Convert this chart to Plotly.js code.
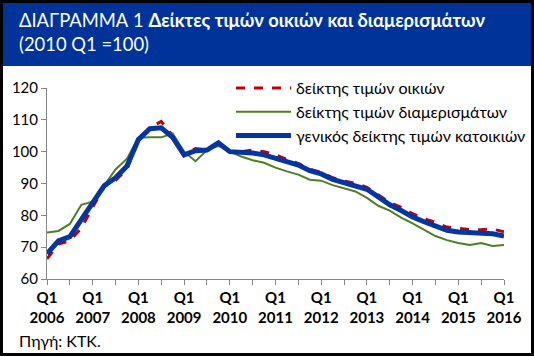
<!DOCTYPE html>
<html>
<head>
<meta charset="utf-8">
<script src="https://cdn.plot.ly/plotly-3.0.1.min.js"></script>
<style>
  html, body { margin: 0; padding: 0; background: #fff; }
  #chart { width: 534px; height: 356px; }
</style>
</head>
<body>
<div id="chart"></div>
<script>
// Quarters 2006 Q1 .. 2016 Q1
const quarters = [];
for (let y = 2006; y <= 2016; y++) {
  for (let q = 1; q <= 4; q++) {
    if (y === 2016 && q > 1) break;
    quarters.push('Q' + q + ' ' + y);
  }
}

const seriesNames = ['δείκτης τιμών οικιών', 'δείκτης τιμών διαμερισμάτων', 'γενικός δείκτης τιμών κατοικιών'];

const houses = [66.3, 71.0, 72.0, 76.0, 82.5, 89.0, 91.0, 94.5, 103.5, 107.5, 109.5, 105.0,
  99.5, 101.0, 100.5, 102.5, 100.0, 100.0, 100.5, 100.0, 99.0, 97.5, 96.3, 94.5,
  93.5, 91.8, 90.8, 90.0, 88.8, 86.5, 84.0, 82.5, 80.5, 79.0, 77.8, 76.3,
  76.0, 75.5, 75.5, 75.7, 74.8];

const apartments = [74.6, 75.1, 77.3, 83.3, 84.3, 89.5, 94.4, 97.8, 104.4, 104.5, 104.5, 105.7,
  100.0, 97.0, 100.5, 101.8, 100.0, 98.5, 97.3, 96.5, 95.0, 93.8, 92.8, 91.2,
  90.9, 89.5, 88.5, 87.5, 85.5, 83.0, 81.5, 79.3, 77.5, 75.5, 73.5, 72.2,
  71.3, 70.7, 71.3, 70.4, 70.7];

const general = [67.9, 72.0, 73.3, 78.5, 83.5, 89.3, 91.8, 95.5, 103.8, 107.2, 107.5, 104.5,
  99.0, 100.3, 100.5, 102.8, 100.0, 99.8, 99.6, 99.0, 98.0, 96.8, 95.8, 94.0,
  93.0, 91.3, 90.3, 89.5, 88.2, 85.8, 83.3, 81.5, 79.5, 78.0, 76.8, 75.3,
  74.8, 74.5, 74.3, 74.2, 73.5];

// Ticks every 2 quarters, labels every 4 quarters
const tickVals = quarters.filter((q, i) => i % 2 === 0);
const tickText = quarters.map((q, i) => i % 4 === 0 ? q.replace(' ', '<br>') : '').filter((t, i) => i % 2 === 0);

const FONT = 'Lato, "Open Sans", "DejaVu Sans", sans-serif';

const traces = [
  { x: quarters, y: houses, name: seriesNames[0], type: 'scatter', mode: 'lines',
    line: { color: '#C00000', width: 3, dash: 'dash' } },
  { x: quarters, y: apartments, name: seriesNames[1], type: 'scatter', mode: 'lines',
    line: { color: '#4F7F1F', width: 2 } },
  { x: quarters, y: general, name: seriesNames[2], type: 'scatter', mode: 'lines',
    line: { color: '#0535A0', width: 5 } }
];

const W = 534, H = 356;
const L = 47, R = 30, T = 88, B = 77;
const pw = W - L - R, ph = H - T - B;
const px = v => (v - L) / pw;
const py = v => (H - B - v) / ph;

const layout = {
  width: W, height: H,
  margin: { l: L, r: R, t: T, b: B, autoexpand: false },
  paper_bgcolor: '#ffffff',
  plot_bgcolor: '#ffffff',
  font: { family: FONT, color: '#000', size: 15 },
  showlegend: true,
  title: {
    text: 'ΔΙΑΓΡΑΜΜΑ 1 <b>Δείκτες τιμών οικιών και διαμερισμάτων</b><br>(2010 Q1 =100)',
    font: { family: FONT, size: 18.4, color: '#ffffff' },
    x: 19 / W, xanchor: 'left', xref: 'container',
    y: 1 - 27 / H, yanchor: 'top', yref: 'container'
  },
  xaxis: {
    type: 'category',
    range: [0, quarters.length - 1],
    tickmode: 'array', tickvals: tickVals, ticktext: tickText,
    ticks: 'outside', ticklen: 5, tickcolor: '#868686',
    showline: true, linecolor: '#868686', linewidth: 1,
    showgrid: false, zeroline: false,
    tickangle: 0,
    tickfont: { family: FONT, size: 15, color: '#000', weight: 'bold' }
  },
  yaxis: {
    range: [60, 120], dtick: 10, tick0: 60,
    ticks: 'outside', ticklen: 5, tickcolor: '#868686',
    showline: true, linecolor: '#868686', linewidth: 1,
    showgrid: false, zeroline: false,
    tickfont: { family: FONT, size: 15, color: '#000' }
  },
  legend: {
    x: px(231), xanchor: 'left', y: py(71), yanchor: 'top',
    bgcolor: 'rgba(0,0,0,0)', borderwidth: 0,
    itemwidth: 55,
    font: { family: FONT, size: 16, color: '#000' },
    tracegroupgap: 0
  },
  shapes: [
    { type: 'rect', xref: 'paper', yref: 'paper', layer: 'below',
      x0: px(3), x1: px(531), y0: py(66), y1: py(3),
      fillcolor: '#003399', line: { width: 0 } },
    { type: 'rect', xref: 'paper', yref: 'paper', layer: 'above',
      x0: px(1.5), x1: px(532.5), y0: py(354.5), y1: py(1.5),
      fillcolor: 'rgba(0,0,0,0)', line: { color: '#000', width: 3 } }
  ],
  annotations: [
    { text: 'Πηγή: ΚΤΚ.', xref: 'paper', yref: 'paper', x: px(17), y: py(340),
      xanchor: 'left', yanchor: 'middle', showarrow: false,
      font: { family: FONT, size: 16, color: '#000' } }
  ]
};

Plotly.newPlot('chart', traces, layout, { displayModeBar: false, staticPlot: true });
</script>
</body>
</html>
